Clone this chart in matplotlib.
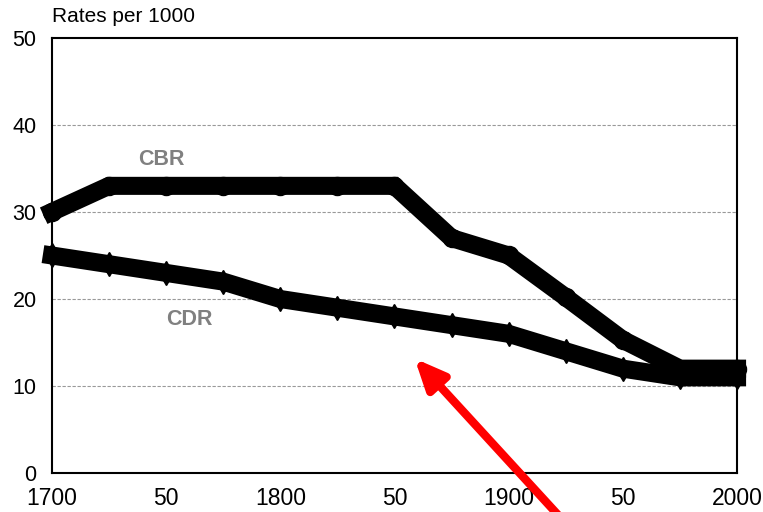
import matplotlib.pyplot as plt

plt.rcParams['font.family'] = ['Liberation Sans', 'DejaVu Sans']

years = [1700, 1725, 1750, 1775, 1800, 1825, 1850, 1875, 1900, 1925, 1950, 1975, 2000]
cbr = [30, 33, 33, 33, 33, 33, 33, 27, 25, 20.2, 15.3, 12, 12]
cdr = [25, 24, 23, 22, 20, 19, 18, 17, 16, 14, 12, 11, 11]
xtick_pos = [1700, 1750, 1800, 1850, 1900, 1950, 2000]
xtick_labels = ['1700', '50', '1800', '50', '1900', '50', '2000']
yticks = [0, 10, 20, 30, 40, 50]

fig = plt.figure(figsize=(7.63, 5.12), dpi=100)
ax = fig.add_axes([0.068, 0.076, 0.898, 0.85])

# grid lines
for y in yticks[1:-1]:
    ax.axhline(y, color='#999999', lw=0.8, ls=(0, (3, 1.5)), zorder=1)

ax.plot(years, cbr, color='black', lw=13, marker='o', ms=13,
        solid_joinstyle='miter', zorder=3, clip_on=False)
ax.plot(years, cdr, color='black', lw=13, marker='d', ms=12.5,
        solid_joinstyle='miter', zorder=3, clip_on=False)

ax.text(1748, 36, 'CBR', color='#808080', fontsize=15.5, fontweight='bold',
        ha='center', va='center')
ax.text(1760, 17.6, 'CDR', color='#808080', fontsize=15.5, fontweight='bold',
        ha='center', va='center')

ax.set_xlim(1700, 2000)
ax.set_ylim(0, 50)
ax.set_xticks(xtick_pos)
ax.set_xticklabels(xtick_labels)
ax.set_yticks(yticks)
ax.tick_params(length=0)
ax.tick_params(axis='x', labelsize=16.5, pad=10)
ax.tick_params(axis='y', labelsize=15.5, pad=11)
for s in ax.spines.values():
    s.set_linewidth(1.5)

fig.text(0.068, 0.967, 'Rates per 1000', fontsize=15, ha='left', va='center')

# red arrow pointing at the gap
ax.annotate('', xy=(1858, 13.4), xycoords='data',
            xytext=(570, -16), textcoords='figure pixels',
            arrowprops=dict(arrowstyle='-|>,head_length=1.8,head_width=0.8',
                            color='red', lw=6),
            annotation_clip=False, zorder=5)

fig.savefig('out.png', dpi=100)
